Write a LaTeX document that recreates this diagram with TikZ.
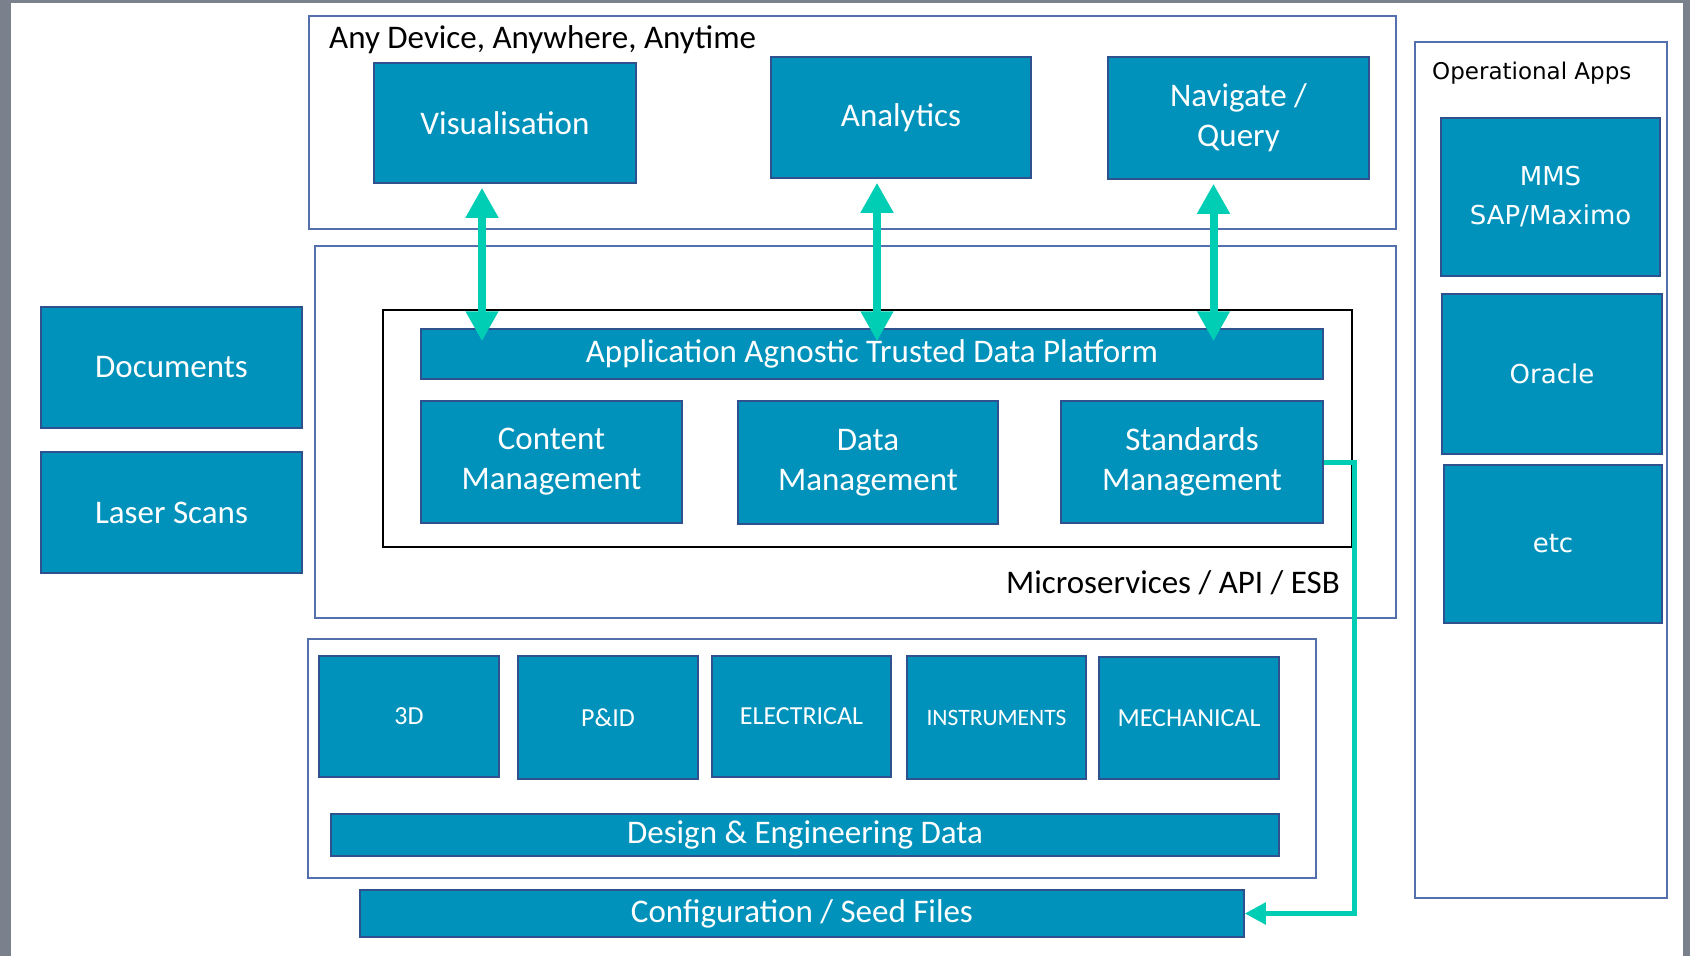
\documentclass[tikz,border=0pt]{standalone}
\usepackage{fontspec}
\setmainfont{Carlito}
\newfontfamily\opsfont{DejaVu Sans}
\usepackage{tikz}
\usetikzlibrary{arrows.meta}

\definecolor{boxfill}{RGB}{0,146,187}
\definecolor{boxedge}{RGB}{47,82,143}
\definecolor{frameedge}{RGB}{84,112,172}
\definecolor{synccol}{RGB}{0,206,180}
\definecolor{edgegray}{RGB}{122,129,140}

\begin{document}
\begin{tikzpicture}
  [x=1pt,y=-1pt,
   box/.style={draw=boxedge,fill=boxfill,line width=1.5pt,text=white,align=center,inner sep=0pt,
     font=\fontsize{33}{40}\selectfont},
   small/.style={box,font=\fontsize{26}{31}\selectfont},
   opsbox/.style={box,font=\opsfont\fontsize{26}{39}\selectfont},
   frame/.style={draw=frameedge,fill=white,line width=1.8pt,inner sep=0pt},
   label/.style={inner sep=0pt,font=\fontsize{33}{40}\selectfont},
   sync/.style={draw=synccol,line width=8pt,{Triangle[width=31pt,length=30pt]}-{Triangle[width=31pt,length=30pt]}},
   seed/.style={draw=synccol,line width=5pt,-{Triangle[width=21pt,length=21pt]}}]

  \useasboundingbox (0,0) rectangle (1690,956);
  \fill[edgegray] (0,0) rectangle (1690,956);
  \fill[white] (11,3) rectangle (1683,956);

  % frames
  \node[frame,minimum width=1087pt,minimum height=213pt] (devframe) at (852.5,122.5) {};
  \node[frame,minimum width=1081pt,minimum height=372pt] (midframe) at (855.5,432) {};
  \node[frame,draw=black,minimum width=969pt,minimum height=237pt] (core) at (867.5,428.5) {};
  \node[frame,minimum width=1008pt,minimum height=239pt] (engframe) at (812,758.5) {};
  \node[frame,minimum width=252pt,minimum height=856pt] (opsframe) at (1541,470) {};

  \node[label,anchor=west] (anydev) at (329,40) {Any Device, Anywhere, Anytime};
  \node[label,anchor=east] (msvc) at (1340,583) {Microservices / API / ESB};
  \node[label,anchor=west,font=\opsfont\fontsize{23}{28}\selectfont] (opslbl) at (1432,73) {Operational Apps};

  % front ends
  \node[box,minimum width=262pt,minimum height=120pt] (vis) at (505,123) {Visualisation};
  \node[box,minimum width=260pt,minimum height=121pt] (anl) at (901,117.5) {Analytics};
  \node[box,minimum width=261pt,minimum height=122pt] (nav) at (1238.5,118) {Navigate /\\Query};

  % platform
  \node[box,minimum width=902pt,minimum height=50pt] (atdp) at (872,354) {Application Agnostic Trusted Data Platform};
  \node[box,minimum width=261pt,minimum height=122pt] (cm) at (551.5,462) {Content\\Management};
  \node[box,minimum width=260pt,minimum height=123pt] (dm) at (868,462.5) {Data\\Management};
  \node[box,minimum width=262pt,minimum height=122pt] (sm) at (1192,462) {Standards\\Management};

  % sources
  \node[box,minimum width=261pt,minimum height=121pt] (docs) at (171.5,367.5) {Documents};
  \node[box,minimum width=261pt,minimum height=121pt] (laser) at (171.5,512.5) {Laser Scans};

  \node[small,minimum width=180pt,minimum height=121pt] (d3) at (409,716.5) {3D};
  \node[small,minimum width=180pt,minimum height=123pt] (pid) at (608,717.5) {P\&ID};
  \node[small,minimum width=179pt,minimum height=121pt] (elec) at (801.5,716.5) {ELECTRICAL};
  \node[small,minimum width=179pt,minimum height=123pt,font=\fontsize{23.5}{28}\selectfont] (inst) at (996.5,717.5) {INSTRUMENTS};
  \node[small,minimum width=180pt,minimum height=122pt] (mech) at (1189,718) {MECHANICAL};
  \node[box,minimum width=948pt,minimum height=42pt] (ded) at (805,835) {Design \& Engineering Data};
  \node[box,minimum width=884pt,minimum height=47pt] (cfg) at (802,913.5) {Configuration / Seed Files};

  % operational apps
  \node[opsbox,minimum width=219pt,minimum height=158pt] (mms) at (1550.5,197) {MMS\\SAP/Maximo};
  \node[opsbox,minimum width=220pt,minimum height=160pt] (orcl) at (1552,374) {Oracle};
  \node[opsbox,minimum width=218pt,minimum height=158pt] (etc) at (1553,544) {etc};

  \foreach \src/\dx in {vis/-23,anl/-24,nav/-25}
    \draw[sync,shorten <=4pt,shorten >=-13pt] ([xshift=\dx pt]\src.south) -- ([xshift=\dx pt]\src.south |- atdp.north);

  \draw[seed] (sm.east) -- ++(31,0) |- (cfg.east);

\end{tikzpicture}
\end{document}
